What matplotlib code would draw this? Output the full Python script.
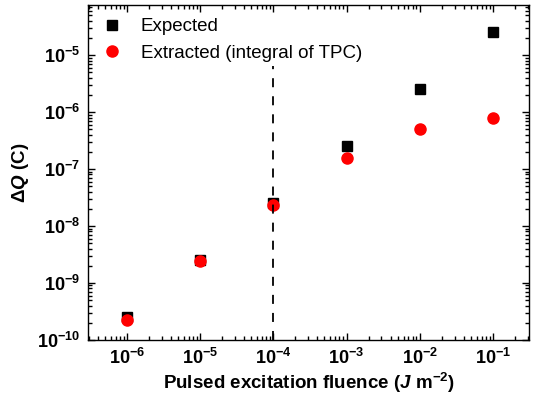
import matplotlib
matplotlib.use('Agg')
import matplotlib.pyplot as plt
from matplotlib.ticker import LogLocator, LogFormatterSciNotation, NullFormatter

plt.rcParams['font.family'] = ['Liberation Sans', 'DejaVu Sans']
plt.rcParams['font.weight'] = 'bold'
plt.rcParams['mathtext.fontset'] = 'custom'
plt.rcParams['mathtext.rm'] = 'Liberation Sans:bold'
plt.rcParams['mathtext.bf'] = 'Liberation Sans:bold'
plt.rcParams['mathtext.it'] = 'Liberation Sans:bold:italic'

# fluence (J m^-2) and collected charge (C)
fluence = [1e-6, 1e-5, 1e-4, 1e-3, 1e-2, 1e-1]
expected = [2.5e-10, 2.5e-9, 2.5e-8, 2.5e-7, 2.5e-6, 2.5e-5]
extracted = [2.25e-10, 2.4e-9, 2.3e-8, 1.58e-7, 5.1e-7, 8.0e-7]
threshold = 1e-4
x_decades = [1e-6, 1e-5, 1e-4, 1e-3, 1e-2, 1e-1]
y_decades = [1e-10, 1e-9, 1e-8, 1e-7, 1e-6, 1e-5]

fig = plt.figure(figsize=(5.37, 4.07), dpi=100)
ax = fig.add_axes([0.164, 0.165, 0.821, 0.823])

ax.plot(fluence, expected, 's', color='black', ms=7.5, label='Expected')
ax.plot(fluence, extracted, 'o', color='red', ms=8, label='Extracted (integral of TPC)')
ax.plot([threshold, threshold], [1e-10, 6.5e-6], '--', color='black', lw=1.3, dashes=(5, 5))

ax.set_xscale('log')
ax.set_yscale('log')
ax.set_xlim(2.95e-7, 0.31)
ax.set_ylim(1e-10, 7.6e-5)

ax.set_xticks(x_decades)
ax.set_yticks(y_decades)
for axis in (ax.xaxis, ax.yaxis):
    axis.set_major_formatter(LogFormatterSciNotation())
    axis.set_minor_locator(LogLocator(base=10, subs=range(2, 10), numticks=20))
    axis.set_minor_formatter(NullFormatter())

ax.tick_params(which='both', direction='in', top=True, right=True, width=1.0)
ax.tick_params(which='major', length=5, labelsize=13, pad=6)
ax.tick_params(which='minor', length=3)
for s in ax.spines.values():
    s.set_linewidth(1.0)

ax.set_xlabel(r'Pulsed excitation fluence ($J$ m$^{-2}$)', fontsize=13.5, fontweight='bold', labelpad=2)
ax.set_ylabel(r'$\Delta Q$ (C)', fontsize=13.5, fontweight='bold', labelpad=4)

ax.legend(loc='upper left', frameon=False, prop={'weight': 'normal', 'size': 13.5},
          handletextpad=0.9, borderaxespad=0.3, labelspacing=0.5, handlelength=1.2)

plt.savefig('out.png', dpi=100)
